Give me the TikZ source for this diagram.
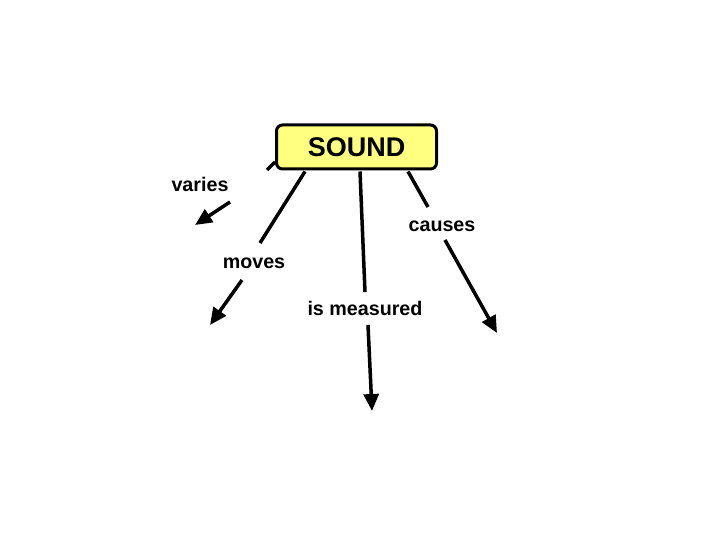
\documentclass[tikz,border=0pt]{standalone}
\usepackage{fontspec}
\setmainfont{Liberation Sans}
\usetikzlibrary{arrows.meta}
\definecolor{boxyellow}{RGB}{255,255,128}
\tikzset{
  link/.style={line width=3.5pt},
  arr/.style={line width=3.5pt,-{Triangle[length=17pt,width=15pt]}},
  lbl/.style={inner sep=0pt,font=\bfseries\fontsize{19.7}{24}\selectfont},
  concept/.style={draw,line width=3pt,rounded corners=6pt,fill=boxyellow,
    minimum width=160pt,minimum height=44pt,inner sep=0pt,
    font=\bfseries\fontsize{27}{32}\selectfont}
}
\begin{document}
\begin{tikzpicture}[x=1pt,y=-1pt]
\useasboundingbox (0,0) rectangle (720,540);
\node[concept] (sound) at (356.5,147) {SOUND};
\node[lbl] (varies) at (200,184) {varies};
\node[lbl] (causes) at (442,226) {causes};
\node[lbl] (moves) at (254,263) {moves};
\node[lbl] (measured) at (365,308) {is measured};
% line ends near labels
\coordinate (e1) at (267,170);
\coordinate (e2) at (260,243);
\coordinate (e3) at (365,292);
\coordinate (e4) at (428,207);
% arrow starts and tips
\coordinate (s1) at (230,202);
\coordinate (t1) at (195,225);
\coordinate (s2) at (242,280);
\coordinate (t2) at (210,325);
\coordinate (s3) at (368,325);
\coordinate (t3) at (372,411);
\coordinate (s4) at (445,240);
\coordinate (t4) at (497,333);
\draw[link] ([yshift=-15pt]sound.west) -- (e1);
\draw[link] ([xshift=-51.5pt,yshift=-1pt]sound.south) -- (e2);
\draw[link] ([xshift=3.5pt,yshift=-1pt]sound.south) -- (e3);
\draw[link] ([xshift=51.5pt,yshift=-1pt]sound.south) -- (e4);
\draw[arr] (s1) -- (t1);
\draw[arr] (s2) -- (t2);
\draw[arr] (s3) -- (t3);
\draw[arr] (s4) -- (t4);
\end{tikzpicture}
\end{document}
